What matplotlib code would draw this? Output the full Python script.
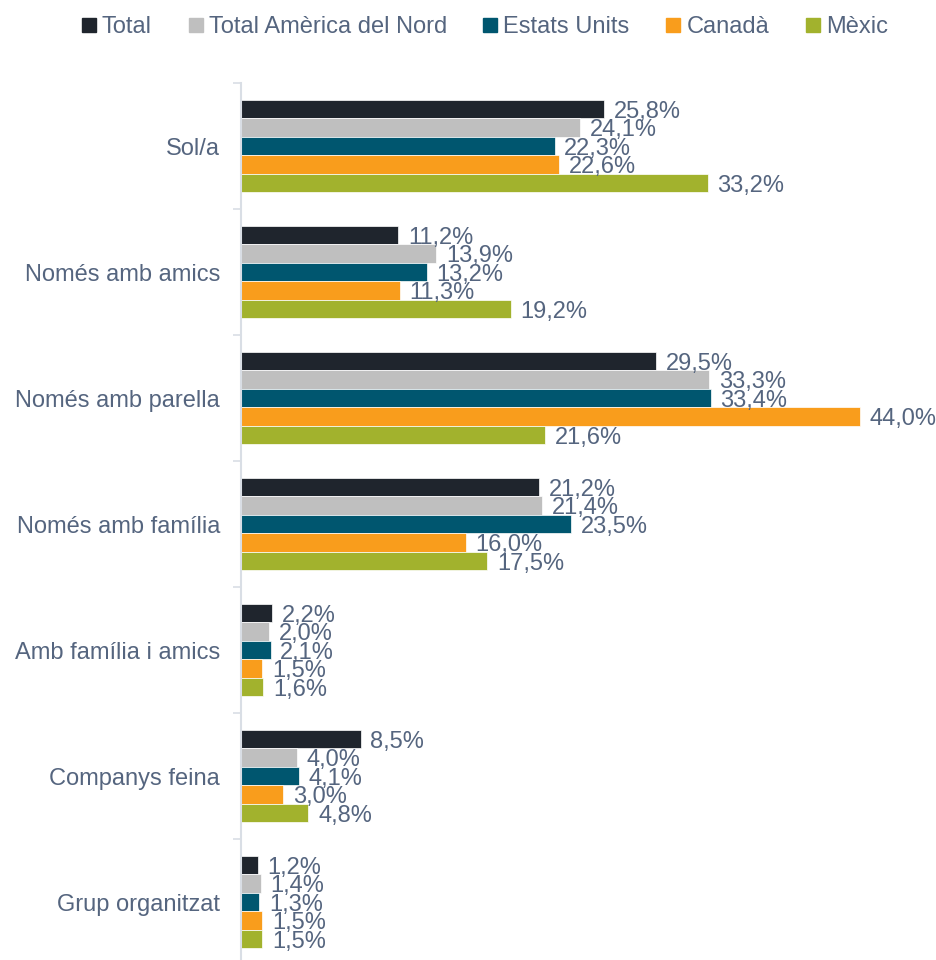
import numpy as np
import matplotlib
matplotlib.use('Agg')
import matplotlib.pyplot as plt
from matplotlib.lines import Line2D

plt.rcParams['font.family'] = ['Liberation Sans', 'DejaVu Sans']

# dades
categories = ['Sol/a', 'Només amb amics', 'Només amb parella', 'Només amb família',
              'Amb família i amics', 'Companys feina', 'Grup organitzat']
series_names = ['Total', 'Total Amèrica del Nord', 'Estats Units', 'Canadà', 'Mèxic']
total = [25.8, 11.2, 29.5, 21.2, 2.2, 8.5, 1.2]
total_an = [24.1, 13.9, 33.3, 21.4, 2.0, 4.0, 1.4]
eeuu = [22.3, 13.2, 33.4, 23.5, 2.1, 4.1, 1.3]
canada = [22.6, 11.3, 44.0, 16.0, 1.5, 3.0, 1.5]
mexic = [33.2, 19.2, 21.6, 17.5, 1.6, 4.8, 1.5]
series = [total, total_an, eeuu, canada, mexic]
colors = ['#1F252D', '#BFBFBF', '#00566F', '#F99D1C', '#A2B22D']

txt_col = '#55657F'

fig = plt.figure(figsize=(9.37, 9.6), dpi=100)
ax = fig.add_axes([241/937, -5/960, 696/937, 882/960])

y = np.arange(len(categories))
bh = 0.147
for k, (vals, c) in enumerate(zip(series, colors)):
    pos = y - 2*bh + k*bh
    ax.barh(pos, vals, height=bh, color=c, edgecolor='white', linewidth=0.5)
    for p, v in zip(pos, vals):
        ax.annotate(('%.1f%%' % v).replace('.', ','), (v, p), xytext=(7, -2),
                    textcoords='offset points', va='center', ha='left',
                    fontsize=17, color=txt_col)

ax.set_xlim(0, 49.5)
ax.set_ylim(len(categories) - 0.5, -0.5)
ax.set_yticks(y)
ax.set_yticklabels(categories, fontsize=17, color=txt_col)
ax.set_yticks(np.arange(-0.5, len(categories)), minor=True)
ax.tick_params(axis='y', which='major', length=0, pad=15)
ax.tick_params(axis='y', which='minor', length=6, color='#D9DEE5', width=1.2)
ax.set_xticks([])
for s in ['top', 'right', 'bottom']:
    ax.spines[s].set_visible(False)
ax.spines['left'].set_color('#D9DEE5')
ax.spines['left'].set_linewidth(1.5)

handles = [Line2D([], [], marker='s', linestyle='none', markersize=9.5,
                  markerfacecolor=c, markeredgecolor=c) for c in colors]
fig.legend(handles, series_names, loc='upper center', bbox_to_anchor=(0.518, 1.005),
           ncol=5, frameon=False, fontsize=17, labelcolor=txt_col,
           handlelength=0.5, handletextpad=0.3, columnspacing=1.6)

fig.savefig('out.png', dpi=100)
